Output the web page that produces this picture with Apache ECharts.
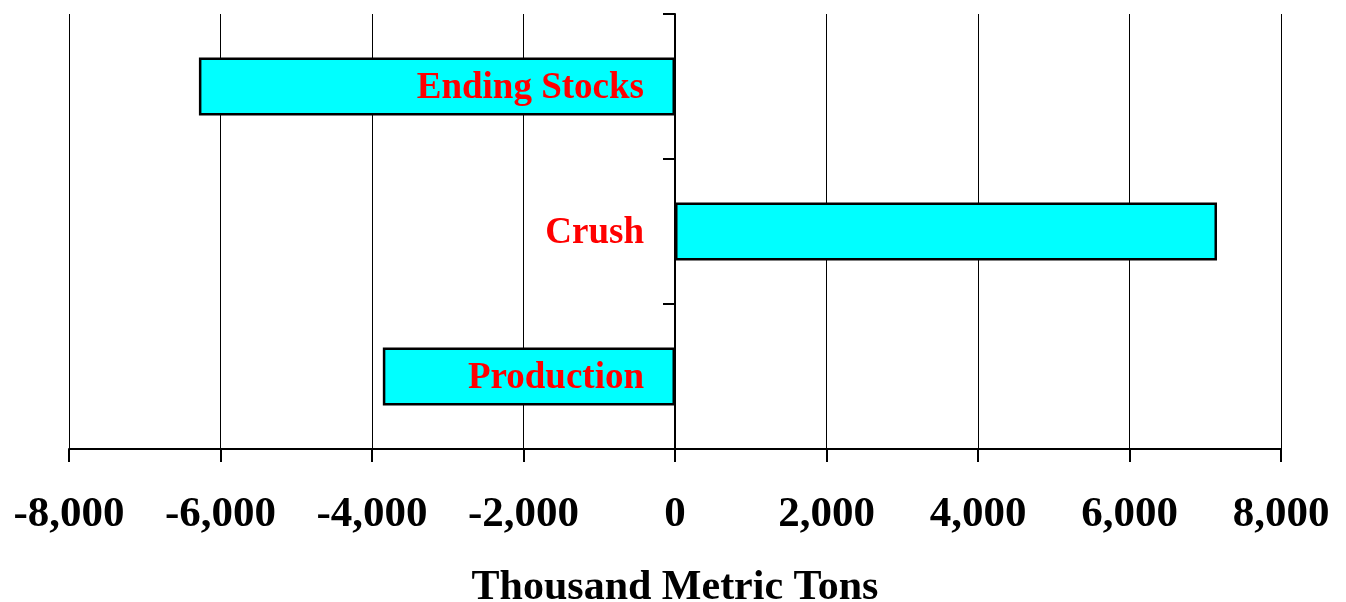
<!DOCTYPE html>
<html>
<head>
<meta charset="utf-8">
<script src="https://cdn.jsdelivr.net/npm/echarts@6/dist/echarts.min.js"></script>
<style>
html,body{margin:0;padding:0;background:#fff;}
#chart{width:1346px;height:602px;}
</style>
</head>
<body>
<div id="chart"></div>
<script>
const categories = ['Production', 'Crush', 'Ending Stocks'];
const values = [-3857, 7155, -6285];
const axisName = 'Thousand Metric Tons';

const FONT = "'Liberation Serif', 'Times New Roman', serif";
function fmt(v) {
  const s = Math.abs(v).toString().replace(/\B(?=(\d{3})+(?!\d))/g, ',');
  return (v < 0 ? '-' : '') + s;
}

const chart = echarts.init(document.getElementById('chart'), null, {renderer: 'canvas'});
chart.setOption({
  animation: false,
  backgroundColor: '#ffffff',
  grid: {left: 69, right: 65, top: 14, bottom: 153, containLabel: false, outerBoundsMode: 'none'},
  xAxis: {
    type: 'value',
    min: -8000, max: 8000, interval: 2000,
    axisLine: {show: true, onZero: false, lineStyle: {color: '#000', width: 2}},
    axisTick: {show: true, length: 13, lineStyle: {color: '#000', width: 2}},
    axisLabel: {
      color: '#000', fontFamily: FONT, fontWeight: 'bold', fontSize: 43, margin: 44,
      formatter: fmt
    },
    splitLine: {show: true, lineStyle: {color: '#000', width: 1}},
    name: axisName,
    nameLocation: 'middle',
    nameGap: 118,
    nameTextStyle: {color: '#000', fontFamily: FONT, fontWeight: 'bold', fontSize: 42}
  },
  yAxis: {
    type: 'category',
    data: categories,
    z: 3,
    axisLine: {show: true, onZero: true, lineStyle: {color: '#000', width: 2}},
    axisTick: {show: true, length: 12, alignWithLabel: false, lineStyle: {color: '#000', width: 2}},
    axisLabel: {show: false},
    splitLine: {show: false}
  },
  series: [{
    type: 'bar',
    data: values,
    barWidth: '40%',
    itemStyle: {color: '#00ffff', borderColor: '#000', borderWidth: 2.5}
  }, {
    type: 'scatter',
    z: 5,
    symbolSize: 0,
    silent: true,
    itemStyle: {opacity: 1},
    data: categories.map(c => [0, c]),
    label: {
      show: true,
      position: 'left',
      distance: 31,
      offset: [0, 2],
      opacity: 1,
      formatter: p => p.value[1],
      color: '#ff0000', fontFamily: FONT, fontWeight: 'bold', fontSize: 37
    }
  }]
});
</script>
</body>
</html>
